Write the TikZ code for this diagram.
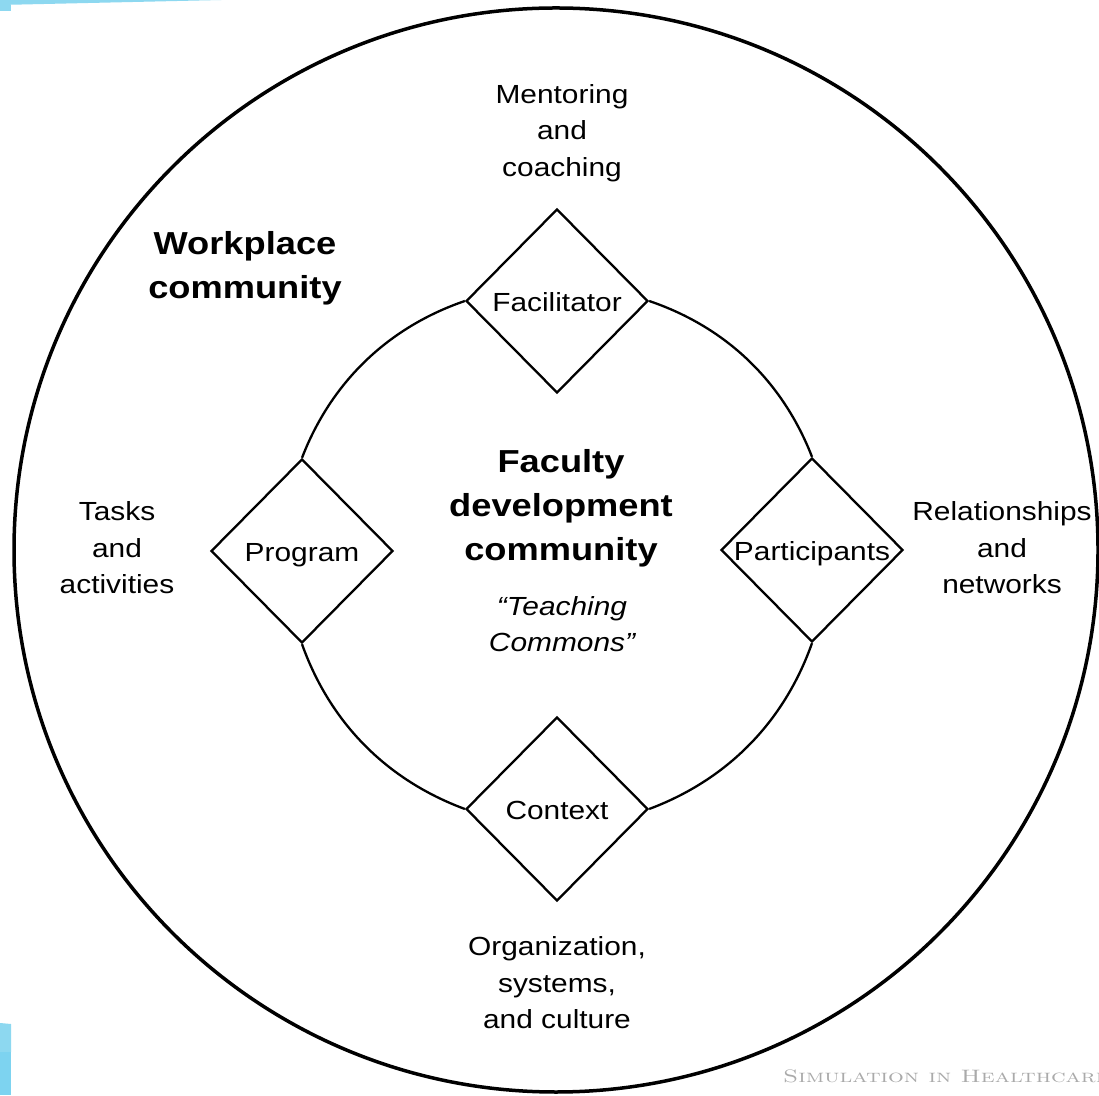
\documentclass[tikz,border=0pt]{standalone}
\usepackage{fontspec}
\usetikzlibrary{shapes.geometric}
\newfontfamily\arialf{Liberation Sans}[FakeStretch=1.14]
\definecolor{bandblue}{RGB}{141,216,240}
\definecolor{barblue}{RGB}{125,211,240}
\definecolor{wmgray}{RGB}{170,170,170}
\begin{document}
\begin{tikzpicture}[x=1pt,y=1pt,
  lbl/.style={font=\arialf\fontsize{26.2}{36.5}\selectfont, align=center, inner sep=0pt},
  boldlbl/.style={font=\arialf\bfseries\fontsize{31.8}{44}\selectfont, align=center, inner sep=0pt},
  dia/.style={diamond, draw, line width=2.3pt, inner sep=0pt, minimum width=182pt, minimum height=184pt,
    label={[lbl, text height=18.7pt, text depth=0pt, yshift=-1pt]center:#1}},
  ring/.style={line width=2.3pt, looseness=0.92}]
\useasboundingbox (0,0) rectangle (1099,1095);
\fill[white] (0,0) rectangle (1099,1095);
% blue corner decorations
\fill[bandblue] (0,1095) -- (222,1095) -- (0,1090) -- cycle;
\fill[bandblue] (0,1090) rectangle (11,1084);
\fill[bandblue] (0,43) -- (0,72) -- (11,71) -- (11,43) -- cycle;
\fill[barblue] (0,0) rectangle (11,43);
% outer circle
\node[circle, draw, line width=3.5pt, minimum size=1084pt, inner sep=0pt] (outer) at (556,545) {};
% diamonds
\node[dia=Facilitator] (fac) at (557,794) {};
\node[dia=Program] (prog) at (302,544) {};
\node[dia=Participants] (part) at (812,545) {};
\node[dia=Context] (ctx) at (557,286) {};
% inner circle arcs
\draw[ring] (fac.west) to[bend right=25] (prog.north);
\draw[ring] (prog.south) to[bend right=25] (ctx.west);
\draw[ring] (ctx.east) to[bend right=25] (part.south);
\draw[ring] (part.north) to[bend right=25] (fac.east);
% texts
\node[lbl] (mentor) at (562,962) {Mentoring\\and\\coaching};
\node[boldlbl] (work) at (245,827) {Workplace\\community};
\node[boldlbl] (fdc) at (561,587) {Faculty\\development\\community};
\node[lbl, font=\arialf\itshape\fontsize{26.2}{36.5}\selectfont] (tc) at (562,471) {“Teaching\\Commons”};
\node[lbl] (tasks) at (117,547) {Tasks\\and\\activities};
\node[lbl] (rel) at (1002,547) {Relationships\\and\\networks};
\node[lbl] (org) at (557,112) {Organization,\\systems,\\and culture};
% watermark
\node[anchor=base west, inner sep=0pt, text=wmgray] (wm) at (783,13)
  {\scalebox{1.38}[1]{\fontsize{18}{18}\selectfont\textsc{Simulation in Healthcare}}};
\end{tikzpicture}
\end{document}
